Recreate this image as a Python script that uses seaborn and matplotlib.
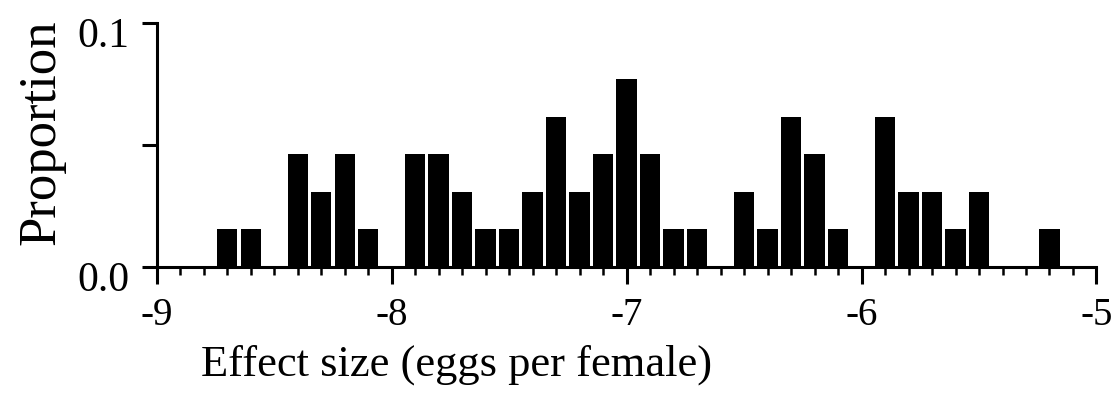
import numpy as np
import pandas as pd
import matplotlib
matplotlib.use("Agg")
import matplotlib.pyplot as plt
import matplotlib.transforms as mtransforms
import seaborn as sns
from matplotlib.ticker import MultipleLocator, FixedLocator

# Effect size bin centres and number of estimates in each bin
bin_centres = [-8.7, -8.6, -8.4, -8.3, -8.2, -8.1,
               -7.9, -7.8, -7.7, -7.6, -7.5, -7.4, -7.3, -7.2, -7.1,
               -7.0, -6.9, -6.8, -6.7,
               -6.5, -6.4, -6.3, -6.2, -6.1,
               -5.9, -5.8, -5.7, -5.6, -5.5,
               -5.2]
bin_counts = [1, 1, 3, 2, 3, 1,
              3, 3, 2, 1, 1, 2, 4, 2, 3,
              5, 3, 1, 1,
              2, 1, 4, 3, 1,
              4, 2, 2, 1, 2,
              1]
x_ticks = [-9, -8, -7, -6, -5]
y_ticks = [0.0, 0.05, 0.1]
y_tick_labels = ["0.0", "", "0.1"]

sns.set_style("ticks")
plt.rcParams["font.family"] = ["Liberation Serif", "DejaVu Serif"]
plt.rcParams["text.color"] = "black"
plt.rcParams["axes.labelcolor"] = "black"

df = pd.DataFrame({"effect": bin_centres, "n": bin_counts})

fig = plt.figure(figsize=(11.2, 4.08), dpi=100)
ax = fig.add_axes([0.140, 0.346, 0.839, 0.598])

sns.histplot(data=df, x="effect", weights="n", binwidth=0.1,
             binrange=(-9.05, -4.95), stat="proportion",
             shrink=0.87, color="black", edgecolor="none", alpha=1, ax=ax)

ax.set_xlim(-9, -5)
ax.set_ylim(0, 0.1)
ax.xaxis.set_major_locator(FixedLocator(x_ticks))
ax.xaxis.set_minor_locator(MultipleLocator(0.1))
ax.set_xticklabels([f"{t:d}" for t in x_ticks])
ax.yaxis.set_major_locator(FixedLocator(y_ticks))
ax.set_yticklabels(y_tick_labels)

for side in ("top", "right"):
    ax.spines[side].set_visible(False)
for side in ("left", "bottom"):
    ax.spines[side].set_linewidth(2.2)
    ax.spines[side].set_color("black")

ax.tick_params(axis="x", which="major", direction="out", length=12, width=2.2,
               labelsize=28, pad=10, colors="black")
ax.tick_params(axis="x", which="minor", direction="out", length=6, width=1.8,
               colors="black")
ax.tick_params(axis="y", which="major", direction="out", length=11, width=2.2,
               labelsize=30, pad=9, colors="black")

# y tick labels sit slightly below their ticks
shift_down = mtransforms.ScaledTranslation(0, -9 / 100, fig.dpi_scale_trans)
for lab in ax.get_yticklabels():
    lab.set_transform(lab.get_transform() + shift_down)

ax.set_xlabel("Effect size (eggs per female)", fontsize=32, color="black")
ax.xaxis.label.set_va("center")
ax.xaxis.set_label_coords(0.319, -0.40)

ax.set_ylabel("Proportion", fontsize=38, color="black")
ax.yaxis.label.set_va("center")
ax.yaxis.set_label_coords(-0.123, 0.553)

fig.savefig("out.png", dpi=100, facecolor="white")
